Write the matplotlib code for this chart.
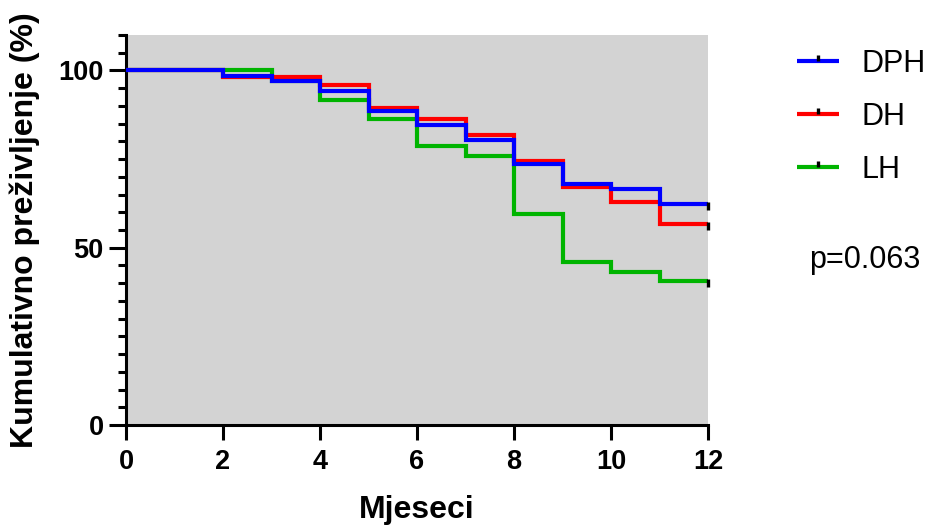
import numpy as np
import matplotlib
matplotlib.use("Agg")
import matplotlib.pyplot as plt
from matplotlib.lines import Line2D
from matplotlib.path import Path

plt.rcParams["font.family"] = ["Liberation Sans", "DejaVu Sans"]

# Kaplan-Meier steps (months, % survival)
months = [0, 2, 3, 4, 5, 6, 7, 8, 9, 10, 11, 12]
dph = [100, 98.4, 97.0, 94.3, 88.7, 84.7, 80.3, 73.6, 68.0, 66.7, 62.4, 62.4]
dh = [100, 98.2, 98.2, 95.9, 89.4, 86.4, 81.9, 74.6, 67.1, 62.8, 56.8, 56.8]
lh = [100, 100, 97.0, 91.8, 86.3, 78.6, 75.8, 59.5, 46.1, 43.2, 40.7, 40.7]

group_names = ["DPH", "DH", "LH"]
group_colors = ["#0000ff", "#ff0000", "#00b400"]
p_value_text = "p=0.063"

x_ticks = [0, 2, 4, 6, 8, 10, 12]
y_ticks = [0, 50, 100]

# censor tick markers (vertical segments)
tick_down = Path([(0, 0.3), (0, -1)], [Path.MOVETO, Path.LINETO])
tick_up = Path([(0, 0), (0, 1)], [Path.MOVETO, Path.LINETO])

fig = plt.figure(figsize=(9.3, 5.29), dpi=100)
ax = fig.add_axes([126 / 930, 104 / 529, 582 / 930, 390 / 529])
ax.set_facecolor("#d3d3d3")

series = [dph, dh, lh]
# draw green first, blue last (blue on top)
for vals, color in reversed(list(zip(series, group_colors))):
    ax.step(months, vals, where="post", color=color, lw=3.0,
            solid_joinstyle="miter", zorder=3)
    ax.plot(months[-1], vals[-1], marker=tick_down, ms=9, mew=2.4,
            color="black", ls="none", zorder=4, clip_on=False)

ax.set_xlim(0, 12)
ax.set_ylim(0, 110)
ax.set_xticks(x_ticks)
ax.set_yticks(y_ticks)
ax.set_yticks(np.arange(0, 111, 5), minor=True)
ax.tick_params(axis="x", which="major", length=11, width=2.2, labelsize=19.5, pad=6)
ax.tick_params(axis="y", which="major", length=12, width=2.2, labelsize=19.5, pad=4)
ax.tick_params(axis="y", which="minor", length=6, width=2.2)
for lab in ax.get_xticklabels() + ax.get_yticklabels():
    lab.set_fontweight("bold")

for side in ["top", "right"]:
    ax.spines[side].set_visible(False)
for side in ["left", "bottom"]:
    ax.spines[side].set_linewidth(2.2)

ax.set_xlabel("Mjeseci", fontsize=23, fontweight="bold", labelpad=15)
ax.set_ylabel("Kumulativno preživljenje (%)", fontsize=23, fontweight="bold", labelpad=13)

handles = [Line2D([], [], color=c, lw=3.0, solid_capstyle="butt", marker=tick_up,
                  ms=9, mew=2.4, mec="black", mfc="black") for c in group_colors]
fig.legend(handles, group_names, loc="upper left", bbox_to_anchor=(797 / 930, 1 - 49 / 529),
           frameon=False, fontsize=22, handlelength=1.37, handletextpad=0.75,
           labelspacing=0.75, borderpad=0, borderaxespad=0, numpoints=1)

fig.text(865 / 930, 1 - 260 / 529, p_value_text, fontsize=22, ha="center", va="center")

fig.savefig("out.png", dpi=100)
